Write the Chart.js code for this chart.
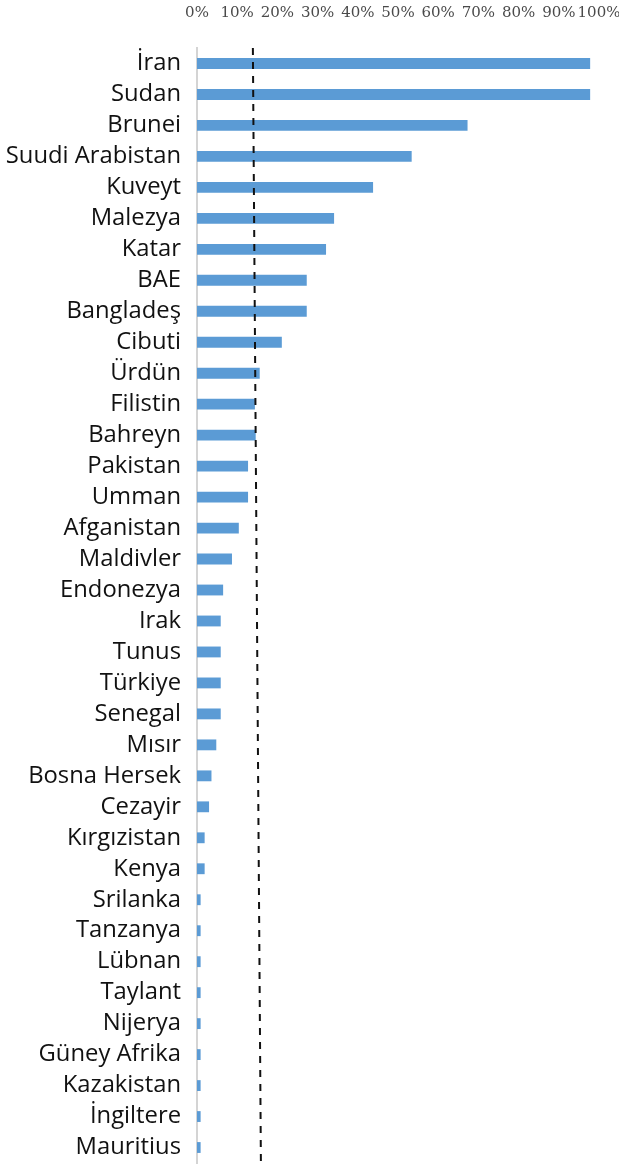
<!DOCTYPE html>
<html>
<head>
<meta charset="utf-8">
<script src="https://cdn.jsdelivr.net/npm/chart.js@4"></script>
<style>
  html, body { margin: 0; padding: 0; background: #fff; }
  #wrap { width: 619px; height: 1167px; }
</style>
</head>
<body>
<div id="wrap"><canvas id="chart"></canvas></div>
<script>
const countries = [
  "İran", "Sudan", "Brunei", "Suudi Arabistan", "Kuveyt", "Malezya", "Katar",
  "BAE", "Bangladeş", "Cibuti", "Ürdün", "Filistin", "Bahreyn", "Pakistan",
  "Umman", "Afganistan", "Maldivler", "Endonezya", "Irak", "Tunus", "Türkiye",
  "Senegal", "Mısır", "Bosna Hersek", "Cezayir", "Kırgızistan", "Kenya",
  "Srilanka", "Tanzanya", "Lübnan", "Taylant", "Nijerya", "Güney Afrika",
  "Kazakistan", "İngiltere", "Mauritius"
];
const shares = [
  97.8, 97.8, 67.3, 53.4, 43.8, 34.1, 32.1,
  27.3, 27.3, 21.1, 15.6, 14.4, 14.6, 12.7,
  12.7, 10.4, 8.7, 6.5, 5.9, 5.9, 5.9,
  5.9, 4.8, 3.6, 3.0, 1.9, 1.9,
  0.9, 0.9, 0.9, 0.9, 0.9, 0.9,
  0.9, 0.9, 0.9
];
const xTicks = [0, 10, 20, 30, 40, 50, 60, 70, 80, 90, 100];
// dashed reference line (slightly slanted in the original)
const refLineTop = 13.9;
const refLineBottom = 15.9;

const refLine = {
  id: "refLine",
  afterDatasetsDraw(chart) {
    const { ctx, chartArea, scales } = chart;
    ctx.save();
    ctx.strokeStyle = "#111";
    ctx.lineWidth = 2;
    ctx.setLineDash([7, 7]);
    ctx.beginPath();
    ctx.moveTo(scales.x.getPixelForValue(refLineTop), chartArea.top);
    ctx.lineTo(scales.x.getPixelForValue(refLineBottom), chartArea.bottom + 2);
    ctx.stroke();
    ctx.restore();
  }
};

new Chart(document.getElementById("chart"), {
  type: "bar",
  data: {
    labels: countries,
    datasets: [{
      data: shares,
      backgroundColor: "#5b9bd5",
      borderWidth: 0,
      barPercentage: 0.35,
      categoryPercentage: 1
    }]
  },
  options: {
    indexAxis: "y",
    responsive: true,
    maintainAspectRatio: false,
    animation: false,
    layout: { padding: { top: 0, right: 20, bottom: 4, left: 0 } },
    plugins: { legend: { display: false }, tooltip: { enabled: false } },
    scales: {
      x: {
        position: "top",
        min: 0,
        max: 100,
        afterFit: (s) => {
          s.height = 48;
          s.paddingLeft = 0;
          s.paddingRight = 0;
        },
        afterBuildTicks: (s) => { s.ticks = xTicks.map((v) => ({ value: v })); },
        grid: { display: false, drawTicks: false },
        border: { display: false },
        ticks: {
          padding: 26,
          maxRotation: 0,
          autoSkip: false,
          color: "#4a4a4a",
          font: { family: "DejaVu Serif", size: 15 },
          callback: (v) => v + "%"
        }
      },
      y: {
        afterFit: (s) => {
          s.width = 197;
          s.paddingTop = 0;
          s.paddingBottom = 0;
        },
        grid: { display: false, drawTicks: false },
        border: { display: true, color: "#d4d4d4", width: 2 },
        ticks: {
          padding: 16,
          autoSkip: false,
          color: "#111",
          font: { family: "Open Sans", size: 23.8 }
        }
      }
    }
  },
  plugins: [refLine]
});
</script>
</body>
</html>
